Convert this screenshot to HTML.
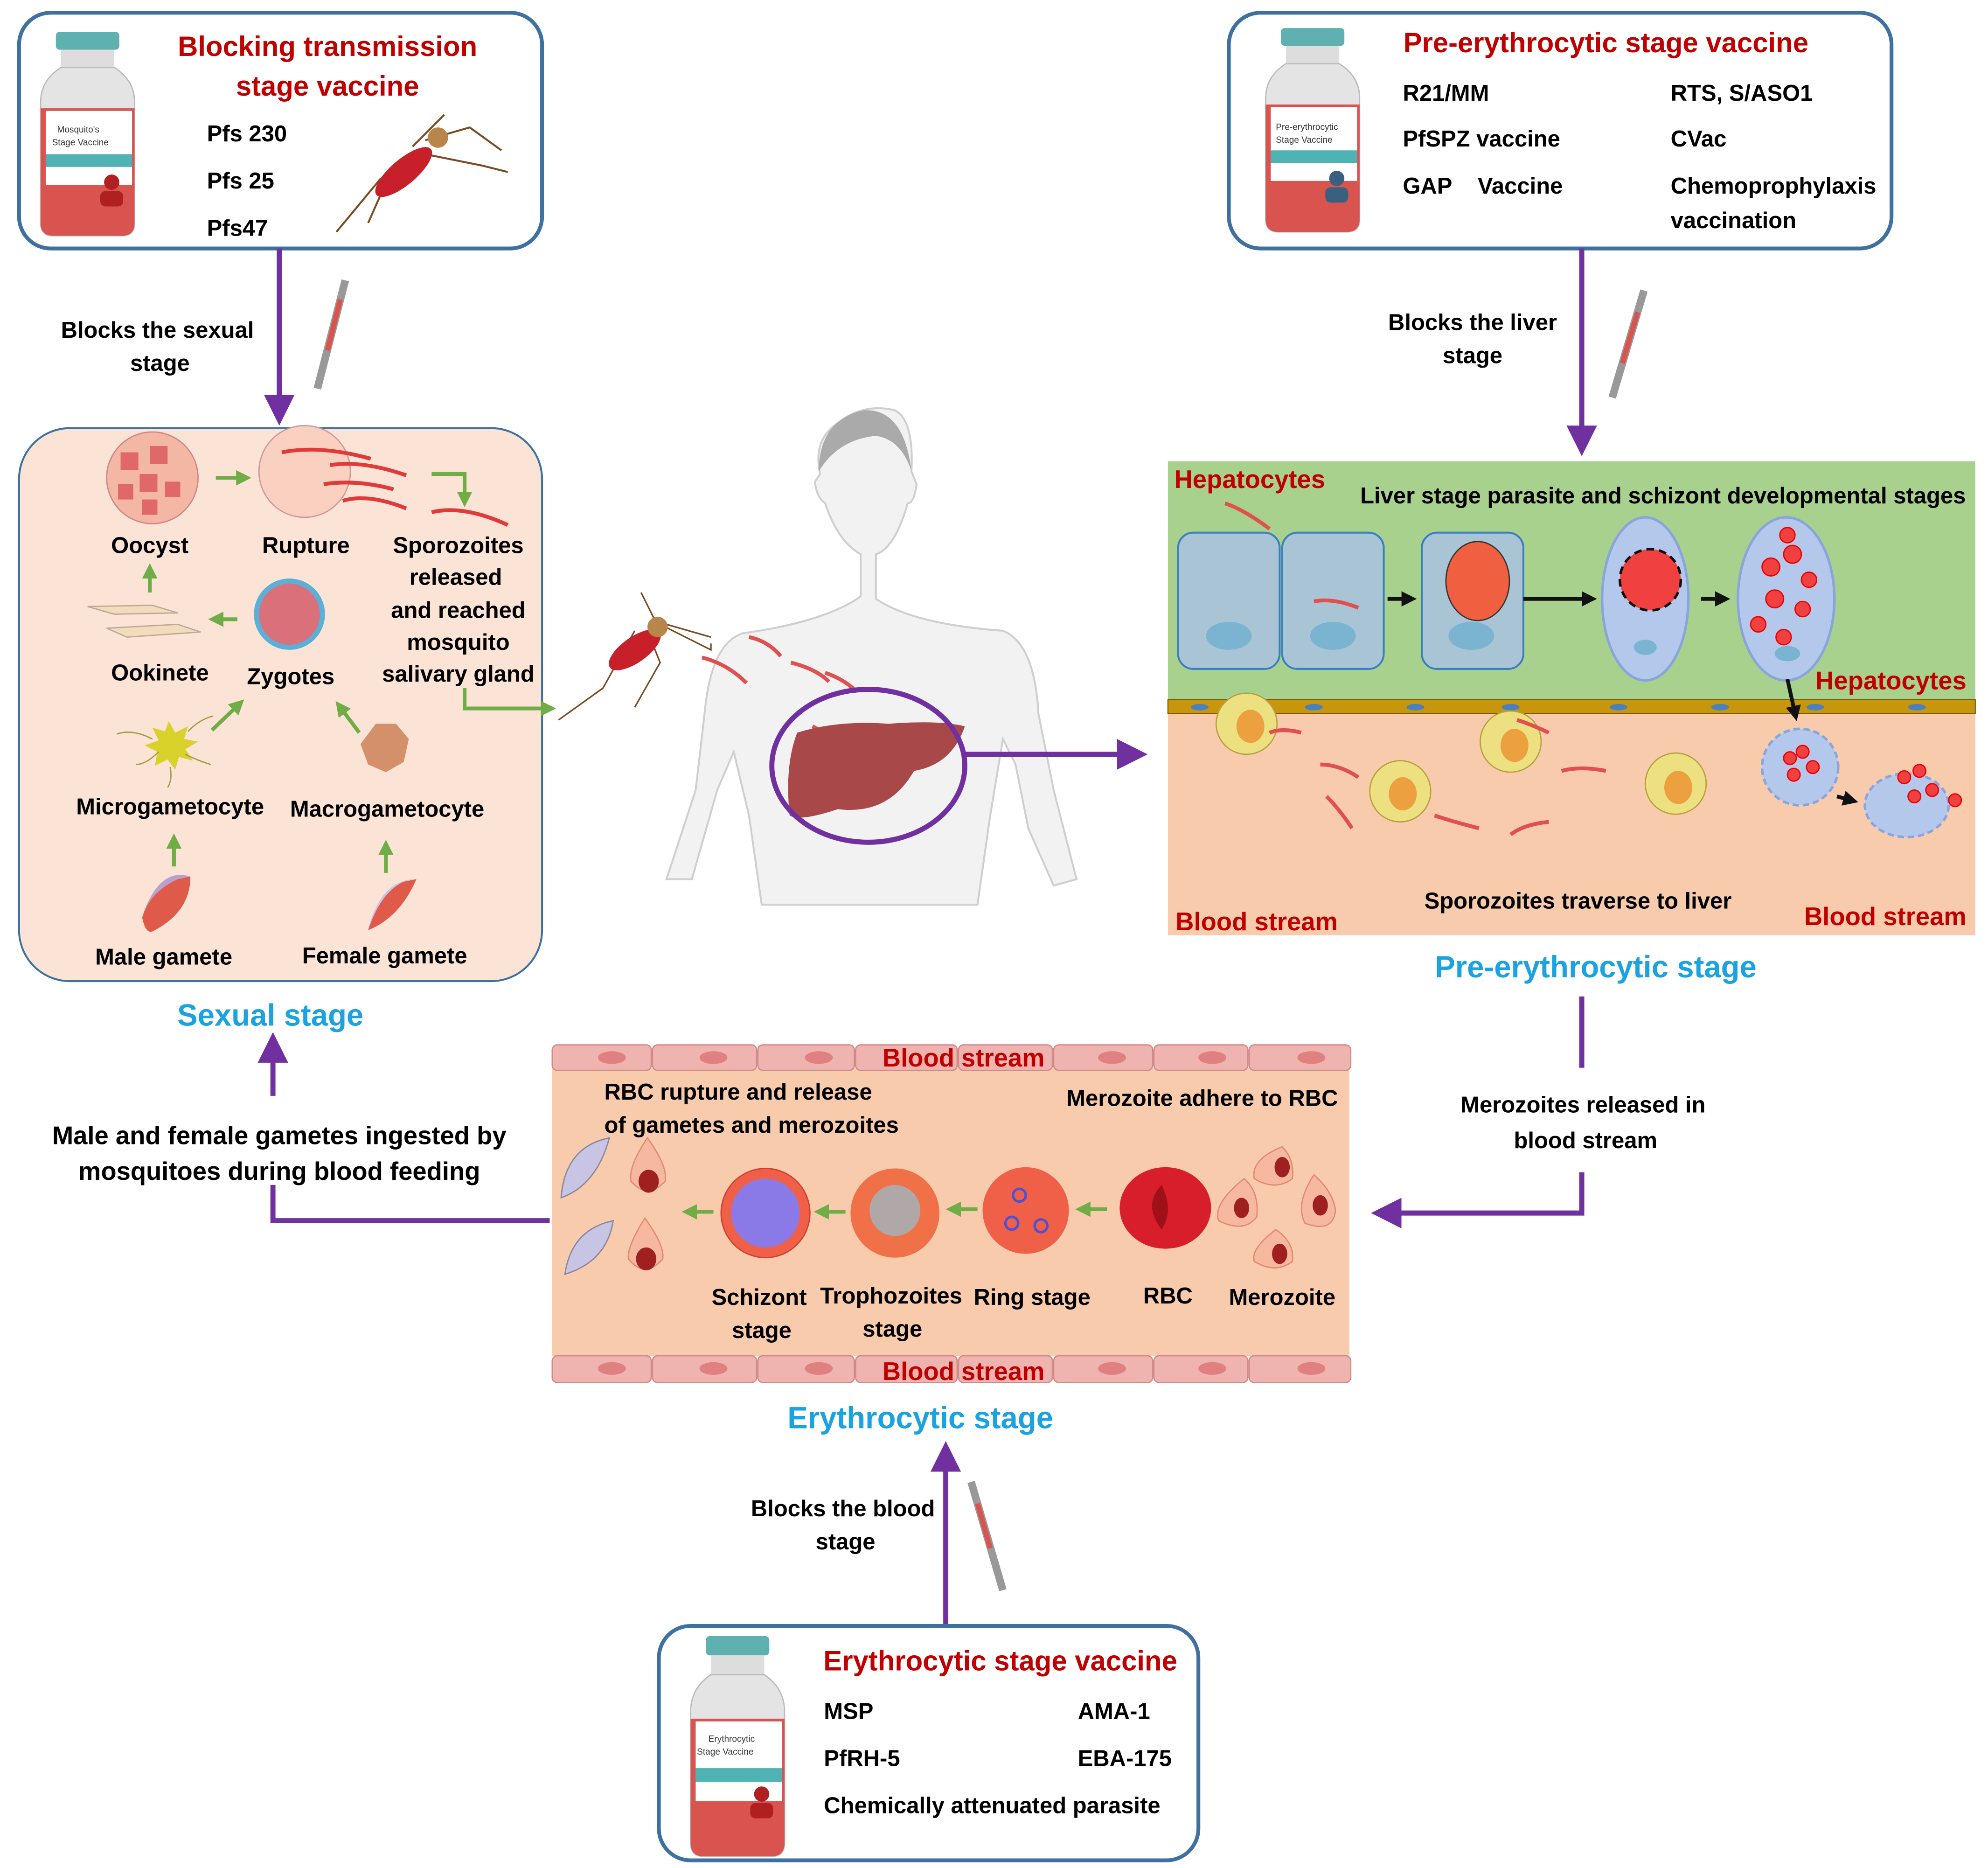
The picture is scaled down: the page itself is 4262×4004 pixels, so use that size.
<!DOCTYPE html>
<html><head><meta charset="utf-8"><style>
html,body{margin:0;padding:0;background:#fff}
svg{display:block}
text{font-family:"Liberation Sans Narrow","Liberation Sans",sans-serif;font-weight:bold}
.w{font-family:"Liberation Sans",sans-serif}
</style></head><body>
<svg width="4262" height="4004" viewBox="0 0 1566 1466" preserveAspectRatio="none" xmlns="http://www.w3.org/2000/svg">
<defs>
<marker id="pa" markerWidth="6" markerHeight="6" refX="3" refY="3" orient="auto" markerUnits="strokeWidth"><path d="M0,0 L6,3 L0,6 z" fill="#7030a0"/></marker>
<marker id="ga" markerWidth="4" markerHeight="4" refX="2" refY="2" orient="auto" markerUnits="strokeWidth"><path d="M0,0 L4,2 L0,4 z" fill="#70ad47"/></marker>
<marker id="ka" markerWidth="4" markerHeight="4" refX="2" refY="2" orient="auto" markerUnits="strokeWidth"><path d="M0,0 L4,2 L0,4 z" fill="#111"/></marker>
<g id="vial">
<rect x="14" y="0" width="50" height="14" rx="3" fill="#5fb0b0"/>
<rect x="18" y="14" width="42" height="14" fill="#ddd"/>
<path d="M18,28 Q2,38 2,55 L2,150 Q2,160 12,160 L66,160 Q76,160 76,150 L76,55 Q76,38 60,28 z" fill="#e4e4e4" stroke="#bbb"/>
<path d="M2,60 L76,60 L76,150 Q76,160 66,160 L12,160 Q2,160 2,150 z" fill="#d9534f"/>
<rect x="6" y="62" width="68" height="58" fill="#fff"/>
<rect x="6" y="96" width="68" height="10" fill="#4fb3b3"/>
</g>
<path id="spz" d="M0,0 q8,-4 16,2 t16,4" fill="none" stroke="#e05050" stroke-width="3" stroke-linecap="round"/>
</defs>

<!-- Top-left vaccine box -->
<rect x="15" y="10" width="412" height="185" rx="25" fill="#fff" stroke="#3e70a0" stroke-width="3"/>
<use href="#vial" transform="translate(30,25)"/>
<text x="45" y="104" font-size="7" font-weight="normal" fill="#333" style="font-weight:normal">Mosquito's</text>
<text x="41" y="114" font-size="7" fill="#333" style="font-weight:normal">Stage Vaccine</text>
<circle cx="88" cy="143" r="6" fill="#b02020"/><rect x="79" y="150" width="18" height="12" rx="4" fill="#b02020"/>
<text x="258" y="44" font-size="22" fill="#c00000" text-anchor="middle" class="w">Blocking transmission</text>
<text x="258" y="75" font-size="22" fill="#c00000" text-anchor="middle" class="w">stage vaccine</text>
<text x="163" y="111" font-size="18" fill="#000" class="w">Pfs 230</text>
<text x="163" y="148" font-size="18" fill="#000" class="w">Pfs 25</text>
<text x="163" y="185" font-size="18" fill="#000" class="w">Pfs47</text>
<!-- mosquito top -->
<g stroke="#7a4a20" stroke-width="1.5" fill="none">
<path d="M300,140 L265,182 M310,130 L290,175 M330,120 L380,130 L400,135 M335,110 L370,100 L395,118 M325,115 L350,90"/>
</g>
<ellipse cx="318" cy="135" rx="28" ry="10" transform="rotate(-40 318 135)" fill="#c8202a"/>
<circle cx="345" cy="108" r="8" fill="#b8864a"/>

<!-- arrow top-left down -->
<line x1="220" y1="195" x2="220" y2="322" stroke="#7030a0" stroke-width="4" marker-end="url(#pa)"/>
<text x="124" y="265" font-size="18" text-anchor="middle" class="w">Blocks the sexual</text>
<text x="126" y="291" font-size="18" text-anchor="middle" class="w">stage</text>
<line x1="272" y1="220" x2="250" y2="305" stroke="#999" stroke-width="6"/>
<line x1="268" y1="235" x2="258" y2="275" stroke="#d9534f" stroke-width="4"/>

<!-- Sexual stage box -->
<rect x="15" y="336" width="412" height="434" rx="40" fill="#fbe3d5" stroke="#3e70a0" stroke-width="1.5"/>
<circle cx="120" cy="375" r="36" fill="#f4b7a4" stroke="#c88"/>
<g fill="#e06868"><rect x="95" y="355" width="14" height="14"/><rect x="118" y="350" width="14" height="14"/><rect x="110" y="372" width="14" height="14"/><rect x="130" y="378" width="12" height="12"/><rect x="93" y="380" width="12" height="12"/><rect x="112" y="392" width="12" height="12"/></g>
<line x1="170" y1="375" x2="192" y2="375" stroke="#70ad47" stroke-width="3" marker-end="url(#ga)"/>
<circle cx="240" cy="370" r="36" fill="#fad0c0" stroke="#c99"/>
<g stroke="#e03a3a" stroke-width="3" fill="none"><path d="M222,355 q30,-6 70,5"/><path d="M260,365 q25,-4 60,8"/><path d="M255,380 q25,-4 55,4"/><path d="M270,393 q20,-6 50,6"/><path d="M340,402 q25,-6 60,10"/></g>
<path d="M340,372 L366,372 L366,392" fill="none" stroke="#70ad47" stroke-width="3" marker-end="url(#ga)"/>
<text x="118" y="434" font-size="18" text-anchor="middle" class="w">Oocyst</text>
<text x="241" y="434" font-size="18" text-anchor="middle" class="w">Rupture</text>
<g font-size="18" text-anchor="middle" class="w"><text x="361" y="434" class="w">Sporozoites</text><text x="359" y="459" class="w">released</text><text x="361" y="485" class="w">and reached</text><text x="361" y="510" class="w">mosquito</text><text x="361" y="535" class="w">salivary gland</text></g>
<path d="M69,476 L120,475 L140,481 L90,482 z M84,493 L140,490 L158,496 L100,500 z" fill="#f1dcbc" stroke="#ba9"/>
<line x1="118" y1="465" x2="118" y2="448" stroke="#70ad47" stroke-width="3" marker-end="url(#ga)"/>
<circle cx="228" cy="482" r="28" fill="#5bb0d8"/><circle cx="228" cy="482" r="24" fill="#d9707a"/>
<line x1="187" y1="486" x2="170" y2="486" stroke="#70ad47" stroke-width="3" marker-end="url(#ga)"/>
<text x="126" y="534" font-size="18" text-anchor="middle" class="w">Ookinete</text>
<text x="229" y="537" font-size="18" text-anchor="middle" class="w">Zygotes</text>
<polygon points="133,566 138,575 148,570 145,580 156,582 146,588 152,597 141,594 138,604 132,596 122,601 124,590 114,585 125,581 120,571 130,574" fill="#d8d22a"/>
<g stroke="#a89a40" fill="none"><path d="M120,580 q-15,-8 -28,-4 M148,574 q10,-10 20,-12 M146,592 q10,5 20,8 M134,602 q2,10 -2,16 M125,590 q-10,10 -18,10"/></g>
<line x1="167" y1="573" x2="188" y2="553" stroke="#70ad47" stroke-width="3" marker-end="url(#ga)"/>
<polygon points="296,568 312,568 322,580 318,598 304,606 290,600 284,584" fill="#d4906a"/>
<line x1="283" y1="575" x2="268" y2="555" stroke="#70ad47" stroke-width="3" marker-end="url(#ga)"/>
<text x="134" y="639" font-size="18" text-anchor="middle" class="w">Microgametocyte</text>
<text x="305" y="641" font-size="18" text-anchor="middle" class="w">Macrogametocyte</text>
<line x1="137" y1="680" x2="137" y2="660" stroke="#70ad47" stroke-width="3" marker-end="url(#ga)"/>
<line x1="304" y1="685" x2="304" y2="665" stroke="#70ad47" stroke-width="3" marker-end="url(#ga)"/>
<path d="M150,688 Q125,680 112,720 Q115,735 122,730 Q150,715 150,688 z" fill="#e05a4a"/><path d="M150,688 Q125,680 112,720 Q118,700 140,690 z" fill="#b8a0d0"/>
<path d="M328,690 Q300,690 290,730 Q315,720 328,690 z" fill="#e05a4a"/><path d="M328,690 Q300,690 290,730 Q300,700 318,692 z" fill="#c8c4e4"/>
<text x="129" y="757" font-size="18" text-anchor="middle" class="w">Male gamete</text>
<text x="303" y="756" font-size="18" text-anchor="middle" class="w">Female gamete</text>
<path d="M366,540 L366,556 L432,556" fill="none" stroke="#70ad47" stroke-width="3" marker-end="url(#ga)"/>
<text x="213" y="805" font-size="24" fill="#1aa3e0" text-anchor="middle" class="w">Sexual stage</text>

<!-- body -->
<path d="M660,332 Q680,316 705,322 Q720,330 718,370 L722,380 Q720,395 715,395 Q705,430 690,435 L690,470 Q720,490 790,495 Q815,505 818,560 L830,620 L848,690 L830,695 L810,650 L800,600 L790,580 L780,640 L770,710 L600,710 L590,640 L578,590 L565,620 L545,690 L525,690 L548,620 L555,560 Q560,505 585,497 Q650,488 678,468 L678,435 Q660,425 650,395 Q643,390 642,378 L646,372 Q640,345 660,332 z" fill="#f2f2f2" stroke="#cfcfcf" stroke-width="1.5"/>
<path d="M645,370 Q645,330 680,322 Q712,320 718,370 Q710,345 690,342 Q660,345 645,370 z" fill="#aaa"/>
<!-- mosquito mid -->
<g stroke="#7a4a20" stroke-width="1.2" fill="none"><path d="M500,495 L475,540 L440,565 M510,495 L520,520 L500,555 M520,490 L560,510 L560,505 M525,490 L560,500 M515,485 L505,465"/></g>
<ellipse cx="500" cy="510" rx="24" ry="10" transform="rotate(-35 500 510)" fill="#c8202a"/>
<circle cx="518" cy="492" r="8" fill="#b8864a"/>
<g stroke="#e05050" stroke-width="3" fill="none"><path d="M590,500 q15,3 25,15"/><path d="M553,516 q20,5 35,20"/><path d="M623,520 q20,5 30,15"/><path d="M650,528 q15,5 25,15"/><path d="M640,570 q10,5 17,10"/></g>
<path d="M628,575 Q660,565 700,568 Q740,565 760,570 Q750,600 720,605 Q700,640 660,635 Q630,645 622,640 Q618,600 628,575 z" fill="#a94848"/>
<ellipse cx="684" cy="601" rx="76" ry="60" fill="none" stroke="#7030a0" stroke-width="4"/>
<line x1="760" y1="592" x2="892" y2="592" stroke="#7030a0" stroke-width="4" marker-end="url(#pa)"/>

<!-- top-right vaccine box -->
<rect x="968" y="10" width="522" height="185" rx="25" fill="#fff" stroke="#3e70a0" stroke-width="3"/>
<use href="#vial" transform="translate(995,22)"/>
<text x="1005" y="102" font-size="7" fill="#333" style="font-weight:normal">Pre-erythrocytic</text>
<text x="1005" y="112" font-size="7" fill="#333" style="font-weight:normal">Stage Vaccine</text>
<circle cx="1053" cy="140" r="6" fill="#3a6080"/><rect x="1044" y="147" width="18" height="12" rx="4" fill="#3a6080"/>
<text x="1265" y="41" font-size="22" fill="#c00000" text-anchor="middle" class="w">Pre-erythrocytic stage vaccine</text>
<g font-size="18" class="w"><text x="1105" y="79" class="w">R21/MM</text><text x="1105" y="115" class="w">PfSPZ vaccine</text><text x="1105" y="152" class="w">GAP</text><text x="1164" y="152" class="w">Vaccine</text>
<text x="1316" y="79" class="w">RTS, S/ASO1</text><text x="1316" y="115" class="w">CVac</text><text x="1316" y="152" class="w">Chemoprophylaxis</text><text x="1316" y="179" class="w">vaccination</text></g>
<line x1="1246" y1="195" x2="1246" y2="346" stroke="#7030a0" stroke-width="4" marker-end="url(#pa)"/>
<text x="1160" y="259" font-size="18" text-anchor="middle" class="w">Blocks the liver</text>
<text x="1160" y="285" font-size="18" text-anchor="middle" class="w">stage</text>
<line x1="1295" y1="228" x2="1270" y2="312" stroke="#999" stroke-width="6"/>
<line x1="1290" y1="245" x2="1278" y2="285" stroke="#d9534f" stroke-width="4"/>

<!-- liver panel -->
<rect x="920" y="362" width="636" height="190" fill="#a9d18e"/>
<rect x="920" y="560" width="636" height="174" fill="#f8cbad"/>
<rect x="920" y="549" width="636" height="11" fill="#c8960c" stroke="#7a5a00" stroke-width="0.8"/>
<g fill="#4a80c0"><ellipse cx="945" cy="555" rx="7" ry="2.5"/><ellipse cx="1035" cy="555" rx="7" ry="2.5"/><ellipse cx="1115" cy="555" rx="7" ry="2.5"/><ellipse cx="1190" cy="555" rx="7" ry="2.5"/><ellipse cx="1275" cy="555" rx="7" ry="2.5"/><ellipse cx="1355" cy="555" rx="7" ry="2.5"/><ellipse cx="1430" cy="555" rx="7" ry="2.5"/><ellipse cx="1510" cy="555" rx="7" ry="2.5"/></g>
<text x="925" y="383" font-size="20" fill="#c00000">Hepatocytes</text>
<text x="1310" y="395" font-size="18" text-anchor="middle">Liver stage parasite and schizont developmental stages</text>
<g fill="#a9c4d4" stroke="#3a80c0" stroke-width="1.5"><rect x="928" y="418" width="80" height="107" rx="12"/><rect x="1010" y="418" width="80" height="107" rx="12"/><rect x="1120" y="418" width="80" height="107" rx="12"/></g>
<g fill="#7ab4d0"><ellipse cx="968" cy="499" rx="18" ry="11"/><ellipse cx="1050" cy="499" rx="18" ry="11"/><ellipse cx="1159" cy="499" rx="18" ry="11"/></g>
<ellipse cx="1164" cy="456" rx="25" ry="31" fill="#f06040" stroke="#333"/>
<g fill="#b4c8ec" stroke="#8aa4dc" stroke-width="2"><ellipse cx="1296" cy="470" rx="34" ry="64"/><ellipse cx="1407" cy="470" rx="38" ry="64"/></g>
<circle cx="1300" cy="455" r="24" fill="#f04040" stroke="#111" stroke-width="2" stroke-dasharray="6,4"/>
<g fill="#f04040" stroke="#e00"><circle cx="1395" cy="445" r="7"/><circle cx="1412" cy="435" r="7"/><circle cx="1425" cy="455" r="6"/><circle cx="1398" cy="470" r="7"/><circle cx="1420" cy="478" r="6"/><circle cx="1385" cy="490" r="6"/><circle cx="1405" cy="500" r="6"/><circle cx="1408" cy="420" r="6"/></g>
<ellipse cx="1296" cy="508" rx="9" ry="6" fill="#7ab4d0"/><ellipse cx="1408" cy="513" rx="10" ry="6" fill="#7ab4d0"/>
<g stroke="#111" stroke-width="3"><line x1="1093" y1="470" x2="1110" y2="470" marker-end="url(#ka)"/><line x1="1200" y1="470" x2="1252" y2="470" marker-end="url(#ka)"/><line x1="1340" y1="470" x2="1357" y2="470" marker-end="url(#ka)"/><line x1="1408" y1="533" x2="1414" y2="560" marker-end="url(#ka)"/><line x1="1447" y1="625" x2="1458" y2="628" marker-end="url(#ka)"/></g>
<text x="1549" y="541" font-size="20" fill="#c00000" text-anchor="end">Hepatocytes</text>
<g fill="#ece080" stroke="#b8a040"><circle cx="982" cy="568" r="24"/><circle cx="1103" cy="621" r="24"/><circle cx="1190" cy="582" r="24"/><circle cx="1320" cy="615" r="24"/></g>
<g fill="#eca040"><ellipse cx="985" cy="570" rx="11" ry="13"/><ellipse cx="1105" cy="623" rx="11" ry="13"/><ellipse cx="1193" cy="585" rx="11" ry="13"/><ellipse cx="1322" cy="618" rx="11" ry="13"/></g>
<g stroke="#e05050" stroke-width="3" fill="none"><path d="M1000,575 q10,-4 25,0"/><path d="M1040,600 q15,0 30,10"/><path d="M1045,625 q10,10 20,25"/><path d="M1130,640 q15,5 35,10"/><path d="M1190,655 q10,-8 30,-10"/><path d="M1230,605 q15,-4 35,0"/><path d="M1195,565 q10,3 25,10"/><path d="M965,395 q15,5 35,20"/><path d="M1035,472 q15,-3 35,5"/></g>
<g fill="#b4c8ec" stroke="#8aa4dc" stroke-width="2" stroke-dasharray="5,3"><circle cx="1418" cy="602" r="30"/><ellipse cx="1502" cy="632" rx="33" ry="25"/></g>
<g fill="#f04040" stroke="#e00"><circle cx="1410" cy="595" r="5"/><circle cx="1420" cy="590" r="5"/><circle cx="1428" cy="602" r="5"/><circle cx="1413" cy="608" r="5"/><circle cx="1500" cy="610" r="5"/><circle cx="1512" cy="605" r="5"/><circle cx="1522" cy="620" r="5"/><circle cx="1540" cy="628" r="5"/><circle cx="1508" cy="625" r="5"/></g>
<text x="1243" y="713" font-size="18" text-anchor="middle">Sporozoites traverse to liver</text>
<text x="926" y="730" font-size="20" fill="#c00000">Blood stream</text>
<text x="1549" y="726" font-size="20" fill="#c00000" text-anchor="end">Blood stream</text>
<text x="1257" y="767" font-size="24" fill="#1aa3e0" text-anchor="middle" class="w">Pre-erythrocytic stage</text>

<!-- merozoites released arrow -->
<line x1="1246" y1="782" x2="1246" y2="838" stroke="#7030a0" stroke-width="4"/>
<text x="1247" y="873" font-size="18" text-anchor="middle" class="w">Merozoites released in</text>
<text x="1249" y="901" font-size="18" text-anchor="middle" class="w">blood stream</text>
<path d="M1246,920 L1246,952 L1092,952" fill="none" stroke="#7030a0" stroke-width="4" marker-end="url(#pa)"/>

<!-- erythrocytic panel -->
<rect x="435" y="838" width="628" height="226" fill="#f8cbad"/>
<g fill="#f0b4b0" stroke="#d08a88"><rect x="435" y="820" width="78" height="20" rx="4"/><rect x="514" y="820" width="82" height="20" rx="4"/><rect x="597" y="820" width="76" height="20" rx="4"/><rect x="674" y="820" width="80" height="20" rx="4"/><rect x="755" y="820" width="74" height="20" rx="4"/><rect x="830" y="820" width="78" height="20" rx="4"/><rect x="909" y="820" width="74" height="20" rx="4"/><rect x="984" y="820" width="80" height="20" rx="4"/>
<rect x="435" y="1064" width="78" height="21" rx="4"/><rect x="514" y="1064" width="82" height="21" rx="4"/><rect x="597" y="1064" width="76" height="21" rx="4"/><rect x="674" y="1064" width="80" height="21" rx="4"/><rect x="755" y="1064" width="74" height="21" rx="4"/><rect x="830" y="1064" width="78" height="21" rx="4"/><rect x="909" y="1064" width="74" height="21" rx="4"/><rect x="984" y="1064" width="80" height="21" rx="4"/></g>
<g fill="#e08080"><ellipse cx="482" cy="830" rx="11" ry="5"/><ellipse cx="562" cy="830" rx="11" ry="5"/><ellipse cx="645" cy="830" rx="11" ry="5"/><ellipse cx="876" cy="830" rx="11" ry="5"/><ellipse cx="955" cy="830" rx="11" ry="5"/><ellipse cx="1033" cy="830" rx="11" ry="5"/>
<ellipse cx="482" cy="1074" rx="11" ry="5"/><ellipse cx="562" cy="1074" rx="11" ry="5"/><ellipse cx="645" cy="1074" rx="11" ry="5"/><ellipse cx="876" cy="1074" rx="11" ry="5"/><ellipse cx="955" cy="1074" rx="11" ry="5"/><ellipse cx="1033" cy="1074" rx="11" ry="5"/></g>
<text x="759" y="837" font-size="20" fill="#c00000" text-anchor="middle">Blood stream</text>
<text x="759" y="1083" font-size="20" fill="#c00000" text-anchor="middle">Blood stream</text>
<text x="476" y="863" font-size="18">RBC rupture and release</text>
<text x="476" y="889" font-size="18">of gametes and merozoites</text>
<text x="1054" y="868" font-size="18" text-anchor="end">Merozoite adhere to RBC</text>
<path d="M480,893 Q445,900 442,940 Q470,930 480,893 z" fill="#c8c4e4" stroke="#889"/>
<path d="M483,958 Q450,965 445,1000 Q478,990 483,958 z" fill="#c8c4e4" stroke="#889"/>
<g fill="#f7b8a0" stroke="#e08a70"><path d="M510,893 Q495,915 497,927 Q510,942 524,927 Q526,915 510,893 z"/><path d="M508,956 Q494,978 495,988 Q508,1004 522,988 Q524,978 508,956 z"/></g>
<ellipse cx="511" cy="927" rx="8" ry="9" fill="#a02020"/><ellipse cx="509" cy="988" rx="8" ry="9" fill="#a02020"/>
<circle cx="603" cy="952" r="35" fill="#f06048" stroke="#d04030"/><circle cx="603" cy="952" r="27" fill="#8a7ae8"/>
<circle cx="705" cy="952" r="35" fill="#f07048"/><circle cx="705" cy="950" r="20" fill="#b0a8a8"/>
<circle cx="808" cy="950" r="34" fill="#f06048"/>
<g fill="none" stroke="#5050d0" stroke-width="2"><circle cx="803" cy="938" r="5"/><circle cx="797" cy="960" r="5"/><circle cx="820" cy="962" r="5"/></g>
<ellipse cx="918" cy="948" rx="36" ry="32" fill="#d81e2a"/><path d="M915,930 Q900,945 915,965 Q925,950 915,930 z" fill="#a01018"/>
<g fill="#f7b8a0" stroke="#e08a70"><path d="M1010,900 Q985,910 988,925 Q1005,935 1018,925 Q1020,910 1010,900 z"/><path d="M980,925 Q955,945 960,958 Q980,968 990,955 Q992,935 980,925 z"/><path d="M1035,922 Q1020,945 1028,960 Q1050,968 1052,950 Q1050,935 1035,922 z"/><path d="M1005,965 Q985,980 988,990 Q1005,1000 1018,990 Q1020,975 1005,965 z"/></g>
<g fill="#a02020"><ellipse cx="1010" cy="916" rx="6" ry="8"/><ellipse cx="978" cy="948" rx="6" ry="8"/><ellipse cx="1040" cy="946" rx="6" ry="8"/><ellipse cx="1008" cy="984" rx="6" ry="8"/></g>
<g stroke="#70ad47" stroke-width="3"><line x1="562" y1="951" x2="543" y2="951" marker-end="url(#ga)"/><line x1="666" y1="951" x2="647" y2="951" marker-end="url(#ga)"/><line x1="770" y1="949" x2="751" y2="949" marker-end="url(#ga)"/><line x1="872" y1="949" x2="853" y2="949" marker-end="url(#ga)"/></g>
<g font-size="18" text-anchor="middle"><text x="598" y="1024">Schizont</text><text x="600" y="1050">stage</text><text x="702" y="1023">Trophozoites</text><text x="703" y="1049">stage</text><text x="813" y="1024">Ring stage</text><text x="920" y="1023">RBC</text><text x="1010" y="1024">Merozoite</text></g>
<text x="725" y="1121" font-size="24" fill="#1aa3e0" text-anchor="middle" class="w">Erythrocytic stage</text>

<!-- left feeding arrow -->
<path d="M433,958 L215,958 L215,930" fill="none" stroke="#7030a0" stroke-width="4"/>
<line x1="215" y1="860" x2="215" y2="822" stroke="#7030a0" stroke-width="4" marker-end="url(#pa)"/>
<text x="220" y="898" font-size="20" text-anchor="middle" class="w">Male and female gametes ingested by</text>
<text x="220" y="926" font-size="20" text-anchor="middle" class="w">mosquitoes  during blood feeding</text>

<!-- bottom arrow -->
<line x1="745" y1="1275" x2="745" y2="1143" stroke="#7030a0" stroke-width="4" marker-end="url(#pa)"/>
<text x="664" y="1190" font-size="18" text-anchor="middle" class="w">Blocks the blood</text>
<text x="666" y="1216" font-size="18" text-anchor="middle" class="w">stage</text>
<line x1="765" y1="1163" x2="790" y2="1248" stroke="#999" stroke-width="6"/>
<line x1="770" y1="1180" x2="780" y2="1215" stroke="#d9534f" stroke-width="4"/>

<!-- bottom vaccine box -->
<rect x="519" y="1276" width="425" height="184" rx="25" fill="#fff" stroke="#3e70a0" stroke-width="3"/>
<use href="#vial" transform="translate(542,1284) scale(1,1.08)"/>
<text x="558" y="1367" font-size="7" fill="#333" style="font-weight:normal">Erythrocytic</text>
<text x="549" y="1377" font-size="7" fill="#333" style="font-weight:normal">Stage Vaccine</text>
<circle cx="600" cy="1408" r="6" fill="#b02020"/><rect x="591" y="1415" width="18" height="12" rx="4" fill="#b02020"/>
<text x="788" y="1311" font-size="22" fill="#c00000" text-anchor="middle" class="w">Erythrocytic stage vaccine</text>
<g font-size="18" class="w"><text x="649" y="1349" class="w">MSP</text><text x="849" y="1349" class="w">AMA-1</text><text x="649" y="1386" class="w">PfRH-5</text><text x="849" y="1386" class="w">EBA-175</text><text x="649" y="1423" class="w">Chemically attenuated parasite</text></g>
</svg>
</body></html>
